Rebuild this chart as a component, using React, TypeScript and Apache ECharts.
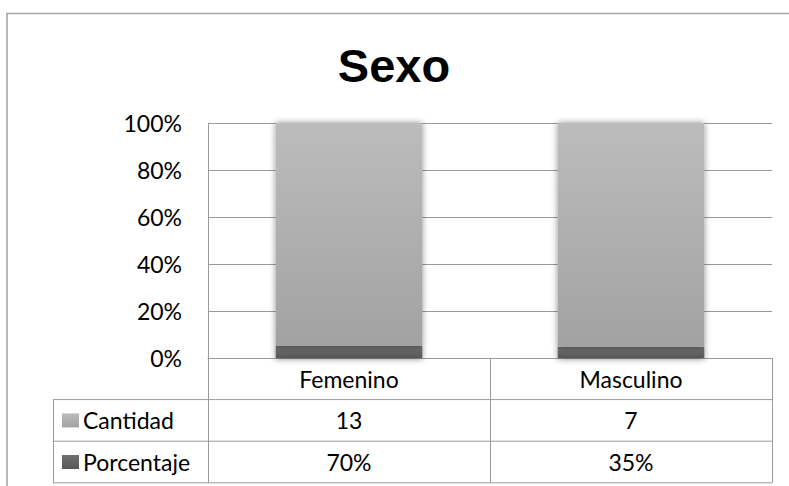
import React, { useEffect, useRef } from "react";
import * as echarts from "echarts";

const categories = ["Femenino", "Masculino"];
const cantidad = [13, 7];
const porcentaje = [0.7, 0.35];
const seriesNames = ["Cantidad", "Porcentaje"];
const yTicks = [0, 20, 40, 60, 80, 100];

const FONT = "Lato, 'Open Sans', sans-serif";
const LINE = "#9a9a9a";
const FS = 23;

export default function App() {
  const ref = useRef<HTMLDivElement>(null);
  useEffect(() => {
    if (!ref.current) return;
    const chart = echarts.init(ref.current, undefined, { renderer: "svg" });
    const totals = cantidad.map((c, i) => c + porcentaje[i]);
    const cantShare = cantidad.map((c, i) => (c / totals[i]) * 100);
    const porcShare = porcentaje.map((p, i) => (p / totals[i]) * 100);
    const cantLabels = cantidad.map((v) => String(v));
    const porcLabels = porcentaje.map((v) => Math.round(v * 100) + "%");

    const gridLeft = 208;
    const gridRight = 772;
    const axisY = 358;
    const rowH = 41.6;

    const lightGrad = () =>
      new echarts.graphic.LinearGradient(0, 0, 0, 1, [
        { offset: 0, color: "#bcbcbc" },
        { offset: 1, color: "#a2a2a2" },
      ]);
    const darkGrad = () =>
      new echarts.graphic.LinearGradient(0, 0, 0, 1, [
        { offset: 0, color: "#707070" },
        { offset: 1, color: "#565656" },
      ]);

    const rowAxis = (data: string[], offset: number) => ({
      type: "category",
      gridIndex: 0,
      position: "bottom",
      offset,
      data,
      axisLine: { show: false },
      axisTick: { show: false },
      axisLabel: {
        color: "#000",
        fontFamily: FONT,
        fontSize: FS,
        margin: rowH / 2,
        verticalAlign: "middle",
      },
    });

    const option: any = {
      animation: false,
      backgroundColor: "#fff",
      title: {
        text: "Sexo",
        left: 389,
        textAlign: "center",
        top: 37,
        textStyle: {
          fontFamily: "'Liberation Sans', Arial, sans-serif",
          fontWeight: "bold",
          fontSize: 47,
          color: "#000",
        },
      },
      grid: { left: gridLeft, right: 789 - gridRight, top: 123, bottom: 486 - axisY },
      xAxis: [
        {
          type: "category",
          data: categories,
          axisLine: { show: true, lineStyle: { color: LINE, width: 1 } },
          axisTick: { show: true, interval: 0, length: rowH * 3, lineStyle: { color: LINE } },
          axisLabel: {
            color: "#000",
            fontFamily: FONT,
            fontSize: FS,
            margin: rowH / 2,
            verticalAlign: "middle",
          },
        },
        rowAxis(cantLabels, rowH),
        rowAxis(porcLabels, rowH * 2),
      ],
      yAxis: {
        type: "value",
        min: 0,
        max: 100,
        interval: 20,
        axisLine: { show: true, lineStyle: { color: LINE } },
        axisTick: { show: false },
        splitLine: { show: true, lineStyle: { color: LINE, width: 1 } },
        axisLabel: {
          color: "#000",
          fontFamily: FONT,
          fontSize: FS,
          margin: 26,
          formatter: (v: number) => (yTicks.includes(v) ? v + "%" : ""),
        },
      },
      series: [
        {
          name: seriesNames[1],
          type: "bar",
          stack: "s",
          barWidth: "52%",
          data: porcShare,
          itemStyle: {
            color: darkGrad(),
            shadowBlur: 6,
            shadowColor: "rgba(0,0,0,0.45)",
            shadowOffsetY: 1,
          },
        },
        {
          name: seriesNames[0],
          type: "bar",
          stack: "s",
          barWidth: "52%",
          data: cantShare,
          itemStyle: {
            color: lightGrad(),
            shadowBlur: 6,
            shadowColor: "rgba(0,0,0,0.45)",
          },
        },
      ],
      graphic: [
        {
          type: "polyline",
          shape: { points: [[7, 486], [7, 13.5], [789, 13.5]] },
          style: { stroke: "#a6a6a6", lineWidth: 1.6, fill: "none" },
          silent: true,
        },
        ...[1, 2, 3].map((k) => ({
          type: "line",
          shape: { x1: 53, y1: axisY + rowH * k, x2: gridRight, y2: axisY + rowH * k },
          style: { stroke: LINE, lineWidth: 1 },
          silent: true,
        })),
        {
          type: "line",
          shape: { x1: 53.5, y1: axisY + rowH, x2: 53.5, y2: axisY + rowH * 3 },
          style: { stroke: LINE, lineWidth: 1 },
          silent: true,
        },
        {
          type: "rect",
          shape: { x: 62, y: axisY + rowH * 1.5 - 7, width: 17, height: 14 },
          style: { fill: lightGrad() },
          silent: true,
        },
        {
          type: "rect",
          shape: { x: 62, y: axisY + rowH * 2.5 - 7, width: 17, height: 14 },
          style: { fill: darkGrad() },
          silent: true,
        },
        {
          type: "text",
          x: 83,
          y: axisY + rowH * 1.5,
          style: {
            text: seriesNames[0],
            fontFamily: FONT,
            fontSize: FS,
            fill: "#000",
            verticalAlign: "middle",
          },
          silent: true,
        },
        {
          type: "text",
          x: 83,
          y: axisY + rowH * 2.5,
          style: {
            text: seriesNames[1],
            fontFamily: FONT,
            fontSize: FS,
            fill: "#000",
            verticalAlign: "middle",
          },
          silent: true,
        },
      ],
    };
    chart.setOption(option);
    return () => chart.dispose();
  }, []);
  return (
    <div
      ref={ref}
      style={{ position: "fixed", left: 0, top: 0, width: 789, height: 486 }}
    />
  );
}
